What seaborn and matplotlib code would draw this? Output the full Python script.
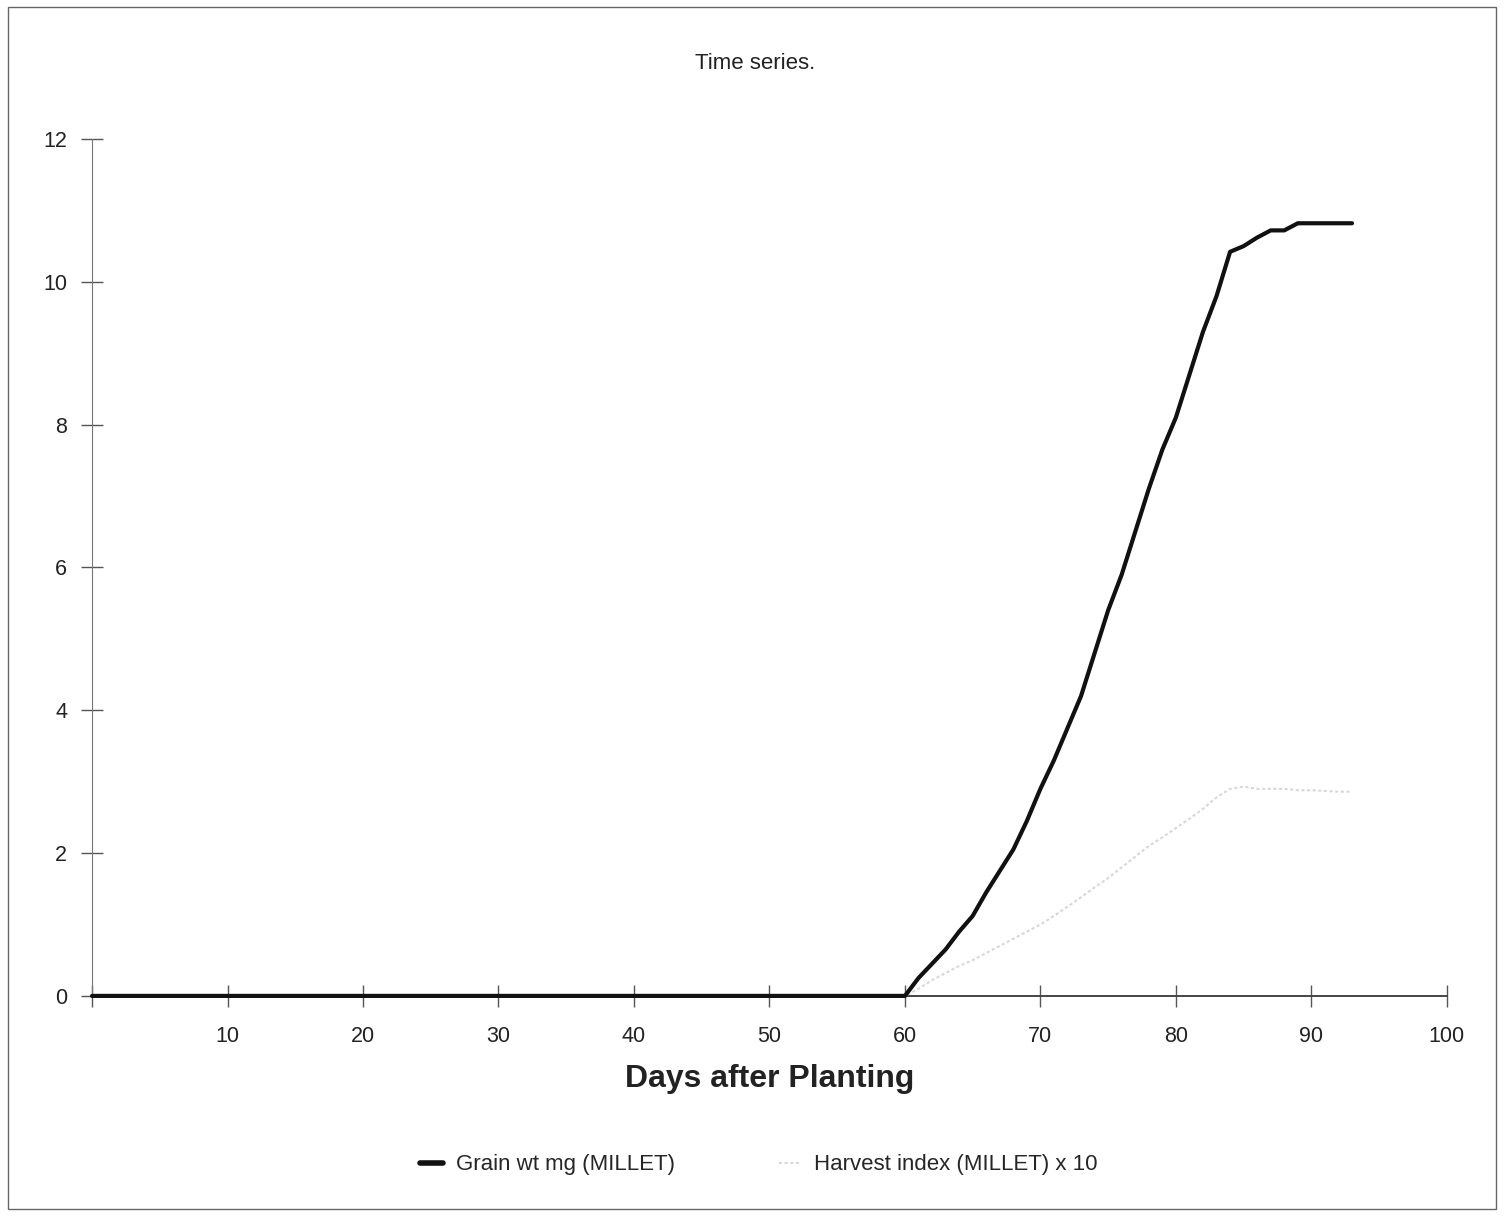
import pandas as pd
import matplotlib.pyplot as plt
import seaborn as sns
from matplotlib.patches import Rectangle

# days after planting (0..93)
days = list(range(0, 94))

grain_before = [0.0] * 61
grain_after = [0.25, 0.45, 0.65, 0.9, 1.12, 1.45, 1.75, 2.05, 2.45, 2.9,
               3.3, 3.75, 4.2, 4.8, 5.4, 5.9, 6.5, 7.1, 7.65, 8.1,
               8.7, 9.3, 9.8, 10.42, 10.5, 10.62, 10.72, 10.72, 10.82, 10.82,
               10.82, 10.82, 10.82]

# harvest index x 10
hi_before = [0.0] * 61
hi_after = [0.1, 0.22, 0.32, 0.42, 0.5, 0.6, 0.7, 0.8, 0.9, 1.0,
            1.12, 1.25, 1.38, 1.52, 1.65, 1.8, 1.95, 2.1, 2.22, 2.35,
            2.48, 2.62, 2.78, 2.9, 2.93, 2.9, 2.9, 2.9, 2.88, 2.88,
            2.87, 2.86, 2.86]

series_names = ['Grain wt mg (MILLET)', 'Harvest index (MILLET) x 10']
x_ticks = [0, 10, 20, 30, 40, 50, 60, 70, 80, 90, 100]
x_ticklabels = [''] + [str(t) for t in x_ticks[1:]]
y_ticks = [0, 2, 4, 6, 8, 10, 12]

df = pd.DataFrame({
    'Day': days * 2,
    'Value': grain_before + grain_after + hi_before + hi_after,
    'Series': [series_names[0]] * len(days) + [series_names[1]] * len(days),
})

sns.set_style('ticks')
plt.rcParams['font.family'] = ['Liberation Sans', 'DejaVu Sans']

fig = plt.figure(figsize=(15.04, 12.16), dpi=100)
ax = fig.add_axes([0.0612, 0.181, 0.9008, 0.7047])

# harvest index drawn first so the grain line sits on top
sns.lineplot(data=df, x='Day', y='Value', hue='Series', hue_order=series_names[::-1],
             palette={series_names[0]: '#111111', series_names[1]: '#d8d8d8'},
             size='Series', sizes={series_names[0]: 3.0, series_names[1]: 1.5},
             style='Series', dashes={series_names[0]: '', series_names[1]: (1.5, 1.2)},
             ax=ax, legend=False)
for ln in ax.lines:
    ln.set_clip_on(False)
    ln.set_zorder(3)

ax.set_xlim(0, 100)
ax.set_ylim(0, 12)
ax.set_xticks(x_ticks)
ax.set_xticklabels(x_ticklabels)
ax.set_yticks(y_ticks)
ax.tick_params(axis='both', direction='inout', length=16, width=1, colors='#555555',
               labelsize=15.5, labelcolor='#222222')
ax.tick_params(axis='x', pad=14)
ax.tick_params(axis='y', pad=10)
for s in ['top', 'right']:
    ax.spines[s].set_visible(False)
ax.spines['left'].set_color('#777777')
ax.spines['bottom'].set_color('#444444')
ax.spines['bottom'].set_linewidth(1.4)

ax.set_ylabel('')
ax.set_xlabel('Days after Planting', fontsize=23, fontweight='bold', labelpad=12,
              color='#222222')

fig.text(0.502, 0.948, 'Time series.', ha='center', va='center', fontsize=16,
         color='#222222')

handles = [plt.Line2D([], [], color='#111111', lw=4),
           plt.Line2D([], [], color='#d8d8d8', lw=1.5, dashes=(1.5, 1.2))]
fig.legend(handles, series_names, loc='center', bbox_to_anchor=(0.5047, 0.042), ncol=2,
           frameon=False, fontsize=16, handlelength=1.0, handletextpad=0.6,
           columnspacing=4.66)

fig.add_artist(Rectangle((0.005, 0.006), 0.99, 0.988, transform=fig.transFigure,
                         fill=False, edgecolor='#666666', linewidth=1))

fig.savefig('out.png', dpi=100, facecolor='white')
